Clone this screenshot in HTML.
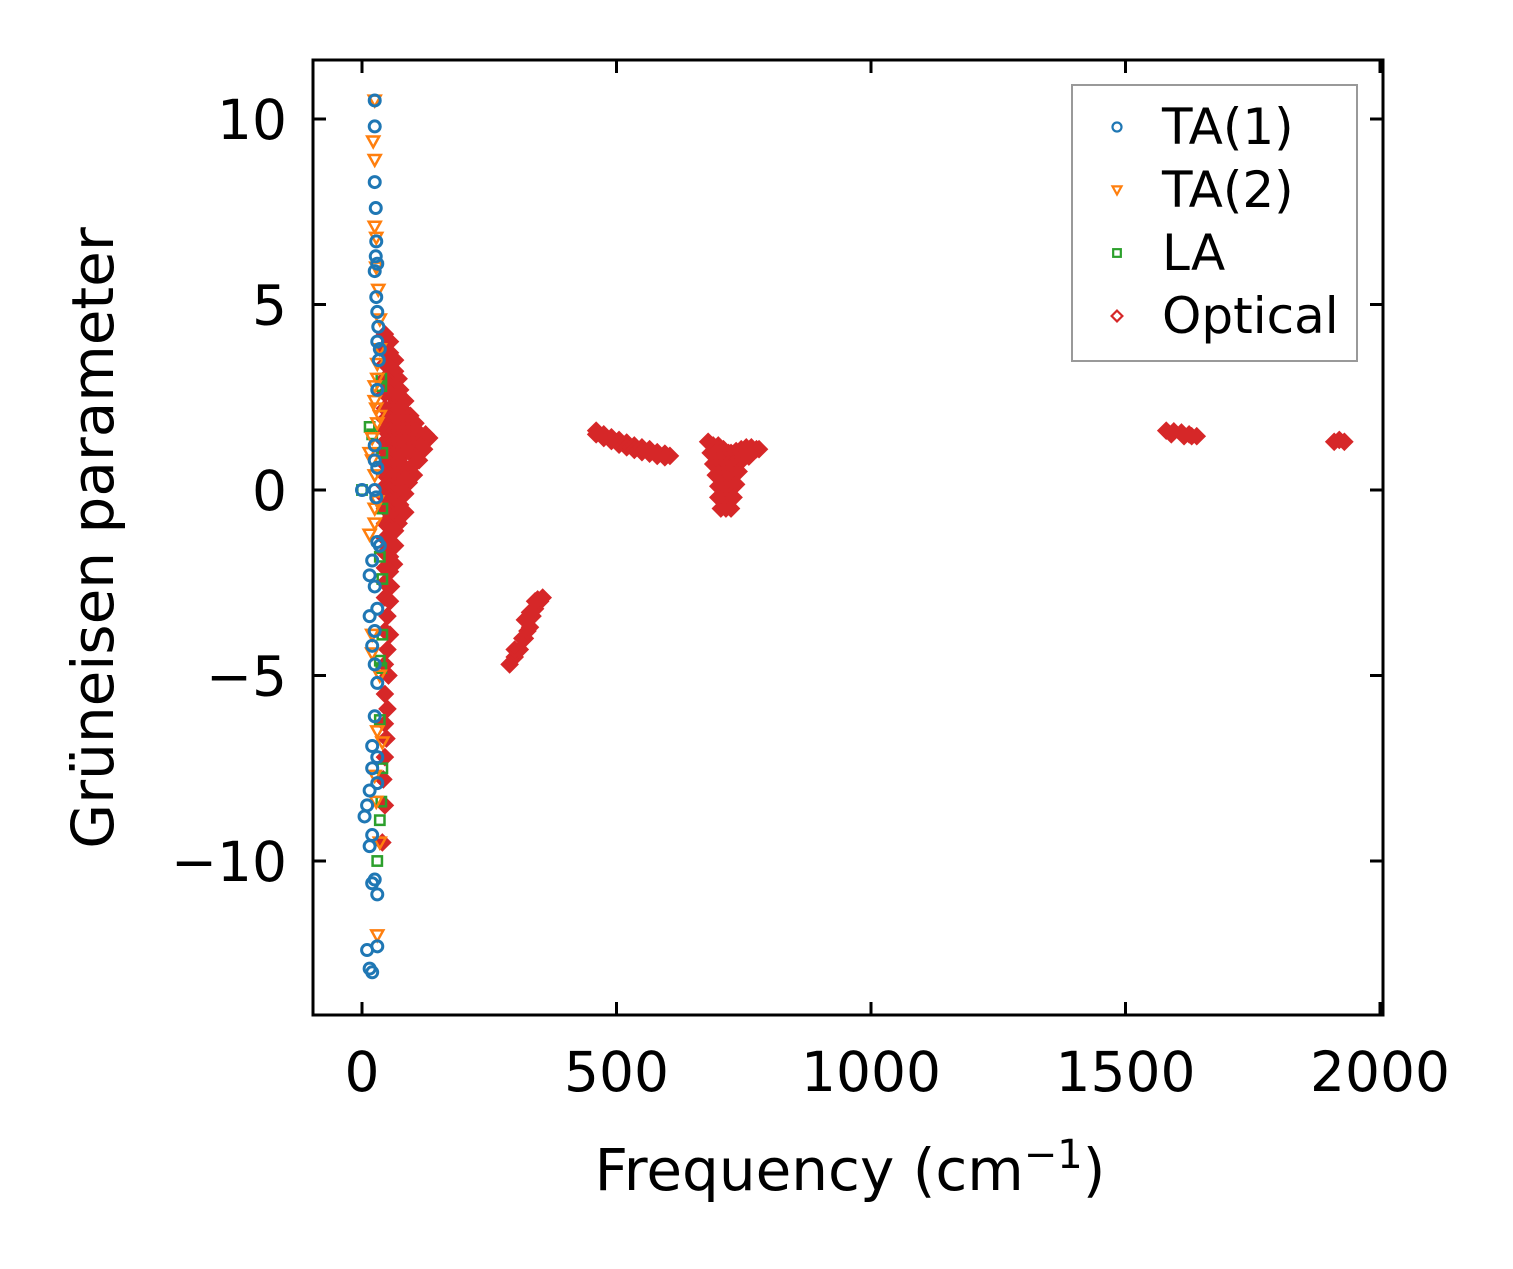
<!DOCTYPE html>
<html><head><meta charset="utf-8"><style>
body{margin:0;background:#fff}
svg text{font-family:"DejaVu Sans","Liberation Sans",sans-serif;fill:#000}
</style></head><body>
<svg id="chart" width="1513" height="1264" xmlns="http://www.w3.org/2000/svg">
<rect x="0" y="0" width="1513" height="1264" fill="#fff"/>
<g id="marks"></g>
<g id="axes"></g>
</svg>
<script>
const xTicks=[0,500,1000,1500,2000];
const yTicks=[10,5,0,-5,-10];
const xTickLabels=["0","500","1000","1500","2000"];
const yTickLabels=["10","5","0","\u22125","\u221210"];
const ta1Points=[[25,10.5],[25,9.8],[25,8.3],[27,7.6],[28,6.7],[27,6.3],[30,6.1],[25,5.9],[28,5.2],[30,4.8],[32,4.4],[30,4.0],[35,3.8],[33,3.5],[30,2.7],[25,1.2],[25,0.8],[30,0.6],[0,0],[25,0],[28,-0.2],[30,-1.4],[35,-1.5],[15,-2.3],[20,-1.9],[25,-2.6],[30,-3.2],[15,-3.4],[25,-3.8],[20,-4.2],[25,-4.7],[30,-5.2],[25,-6.1],[20,-6.9],[30,-7.2],[20,-7.5],[15,-8.1],[30,-7.9],[10,-8.5],[5,-8.8],[20,-9.3],[15,-9.6],[25,-10.5],[30,-10.9],[20,-10.6],[30,-12.3],[10,-12.4],[15,-12.9],[20,-13.0]];
const ta2Points=[[25,10.5],[22,9.4],[25,8.9],[25,7.1],[28,6.8],[28,6.0],[32,5.4],[35,4.6],[35,3.8],[30,3.4],[25,2.8],[28,2.2],[35,2.0],[20,1.4],[15,1.0],[25,0.4],[30,-0.3],[25,-0.9],[15,-1.2],[20,-3.9],[20,-4.4],[30,-6.5],[25,-7.7],[28,-8.4],[35,-9.5],[30,-12.0],[35,-5.0],[40,-6.8],[30,3.0],[25,2.4],[30,1.8],[20,0.8],[25,-0.5]];
const laPoints=[[0,0],[15,1.7],[20,1.5],[38,2.8],[40,1.0],[40,-0.5],[35,-1.8],[40,-3.9],[38,-4.8],[35,-6.2],[40,-7.5],[38,-8.4],[35,-8.9],[30,-10.0],[40,-2.4],[35,-4.6],[38,3.0]];
const opticalPoints=[
[45,4.2],[55,4.0],[45,3.8],[55,3.7],[65,3.5],[45,3.4],[55,3.3],[65,3.2],[72,3.0],[45,3.0],[55,2.9],[65,2.8],[75,2.7],[45,2.6],[55,2.6],[65,2.5],[75,2.5],[85,2.4],[45,2.2],[55,2.2],[65,2.2],[75,2.2],[85,2.1],[95,2.0],[45,1.9],[55,1.9],[65,1.9],[75,1.9],[85,1.9],[95,1.8],[105,1.8],[45,1.6],[55,1.6],[65,1.6],[75,1.6],[85,1.6],[95,1.6],[105,1.6],[115,1.5],[125,1.5],[132,1.4],[45,1.3],[55,1.3],[65,1.3],[75,1.3],[85,1.3],[95,1.3],[105,1.3],[115,1.2],[122,1.1],[45,1.0],[55,1.0],[65,1.0],[75,1.0],[85,1.0],[95,1.0],[105,0.9],[112,0.8],[45,0.7],[55,0.7],[65,0.7],[75,0.7],[85,0.6],[95,0.6],[102,0.4],[45,0.4],[55,0.4],[65,0.4],[75,0.3],[85,0.3],[92,0.2],[45,0.1],[55,0.1],[65,0.0],[75,0.0],[85,-0.1],[45,-0.2],[55,-0.2],[65,-0.3],[75,-0.4],[85,-0.6],[45,-0.5],[55,-0.6],[65,-0.7],[72,-0.9],[45,-0.9],[55,-1.0],[65,-1.1],[45,-1.3],[55,-1.4],[65,-1.5],[45,-1.7],[55,-1.8],[63,-2.0],[45,-2.1],[55,-2.2],[45,-2.5],[57,-2.6],[45,-2.9],[55,-3.0],[50,-3.4],[45,-3.8],[55,-3.9],[50,-4.3],[45,-4.7],[52,-5.0],[45,-5.5],[50,-5.9],[45,-6.3],[48,-6.7],[45,-7.2],[42,-7.8],[45,-8.5],[40,-9.5],
[460,1.6],[460,1.5],[475,1.5],[475,1.4],[490,1.42],[490,1.32],[505,1.35],[505,1.22],[520,1.28],[520,1.15],[535,1.2],[535,1.08],[550,1.15],[550,1.02],[565,1.1],[565,0.98],[580,1.02],[580,0.92],[595,0.98],[595,0.88],[605,0.92],
[680,1.3],[690,1.2],[700,1.2],[710,1.1],[720,1.0],[685,1.0],[695,1.0],[705,1.0],[715,1.0],[725,1.0],[735,1.05],[745,1.1],[755,1.15],[765,1.15],[775,1.1],[780,1.1],[690,0.7],[700,0.7],[710,0.7],[720,0.7],[730,0.7],[740,0.8],[750,0.85],[760,0.9],[695,0.4],[705,0.4],[715,0.4],[725,0.4],[735,0.45],[740,0.5],[700,0.1],[710,0.1],[720,0.1],[730,0.1],[735,0.15],[700,-0.2],[710,-0.2],[720,-0.2],[730,-0.2],[705,-0.5],[715,-0.5],[725,-0.5],
[290,-4.7],[300,-4.5],[310,-4.3],[320,-4.0],[330,-3.7],[335,-3.4],[340,-3.2],[350,-3.0],[355,-2.9],[300,-4.3],[315,-4.0],[325,-3.8],[345,-2.95],[320,-3.5],[330,-3.3],[340,-3.0],
[1580,1.6],[1595,1.58],[1610,1.55],[1625,1.5],[1640,1.45],[1590,1.5],[1615,1.45],[1630,1.45],
[1910,1.3],[1920,1.35],[1930,1.3]];

const L=313,R=1383,T=60,B=1015;
function xs(v){return 362+v*254.5/500;}
function ys(v){return 490-v*37.1;}
const NS="http://www.w3.org/2000/svg";
const marks=document.getElementById('marks');
const axes=document.getElementById('axes');
function mk(tag,attrs,parent){const e=document.createElementNS(NS,tag);for(const k in attrs)e.setAttribute(k,attrs[k]);parent.appendChild(e);return e;}
function marker(type,x,y,s,color,sw,parent,fill){
  let e;const f=fill||'none';
  if(type==='circle') e=mk('circle',{cx:x,cy:y,r:s,fill:f,stroke:color,'stroke-width':sw},parent);
  else if(type==='tri') e=mk('polygon',{points:`${x-s},${y-s*0.8} ${x+s},${y-s*0.8} ${x},${y+s}`,fill:f,stroke:color,'stroke-width':sw},parent);
  else if(type==='square') e=mk('rect',{x:x-s*0.85,y:y-s*0.85,width:s*1.7,height:s*1.7,fill:f,stroke:color,'stroke-width':sw},parent);
  else e=mk('polygon',{points:`${x},${y-s*1.2} ${x+s*1.2},${y} ${x},${y+s*1.2} ${x-s*1.2},${y}`,fill:f,stroke:color,'stroke-width':sw},parent);
  return e;
}
const series=[
 {pts:opticalPoints,type:'diamond',color:'#d62728',name:'optical-point',s:6,sw:3,fill:'#d62728'},
 {pts:laPoints,type:'square',color:'#2ca02c',name:'la-point',s:5.5,sw:2.5},
 {pts:ta2Points,type:'tri',color:'#ff7f0e',name:'ta2-point',s:6,sw:2.5},
 {pts:ta1Points,type:'circle',color:'#1f77b4',name:'ta1-point',s:5.5,sw:3}];
series.forEach(sr=>{
  sr.pts.forEach(p=>{
    const e=marker(sr.type,xs(p[0]),ys(p[1]),sr.s,sr.color,sr.sw,marks,sr.fill);
    
    
  });
});
const fr=mk('rect',{x:L,y:T,width:R-L,height:B-T,fill:'none',stroke:'#000','stroke-width':3},axes);


xTicks.forEach((v,i)=>{
  const x=xs(v);
  mk('line',{x1:x,y1:B,x2:x,y2:B-13,stroke:'#000','stroke-width':3},axes);
  mk('line',{x1:x,y1:T,x2:x,y2:T+13,stroke:'#000','stroke-width':3},axes);
  const t=mk('text',{x:x,y:1091,'font-size':55,'text-anchor':'middle'},axes);
  t.textContent=xTickLabels[i];
  
  
});
yTicks.forEach((v,i)=>{
  const y=ys(v);
  mk('line',{x1:L,y1:y,x2:L+13,y2:y,stroke:'#000','stroke-width':3},axes);
  mk('line',{x1:R,y1:y,x2:R-13,y2:y,stroke:'#000','stroke-width':3},axes);
  const t=mk('text',{x:287,y:y+20,'font-size':55,'text-anchor':'end'},axes);
  t.textContent=yTickLabels[i];
  
  
});
const xl=mk('text',{x:850,y:1190,'font-size':58,'text-anchor':'middle'},axes);
xl.innerHTML='Frequency (cm<tspan dy="-22" font-size="40">\u22121</tspan><tspan dy="22">)</tspan>';


const yl=mk('text',{x:0,y:0,'font-size':58,'text-anchor':'middle',transform:'translate(113,538) rotate(-90)'},axes);
yl.textContent='Grüneisen parameter';


const lg=mk('g',{},axes);


mk('rect',{x:1072,y:85,width:285,height:276,fill:'#fff',stroke:'#999','stroke-width':2},lg);
const legNames=['TA(1)','TA(2)','LA','Optical'];
const legTypes=['circle','tri','square','diamond'];
const legColors=['#1f77b4','#ff7f0e','#2ca02c','#d62728'];
legNames.forEach((n,i)=>{
  const y=127+i*63;
  const m=marker(legTypes[i],1117,y,4.5,legColors[i],2.2,lg);
  
  
  const t=mk('text',{x:1162,y:y+17,'font-size':50},lg);
  t.textContent=n;
  
  
});
</script>
</body></html>
